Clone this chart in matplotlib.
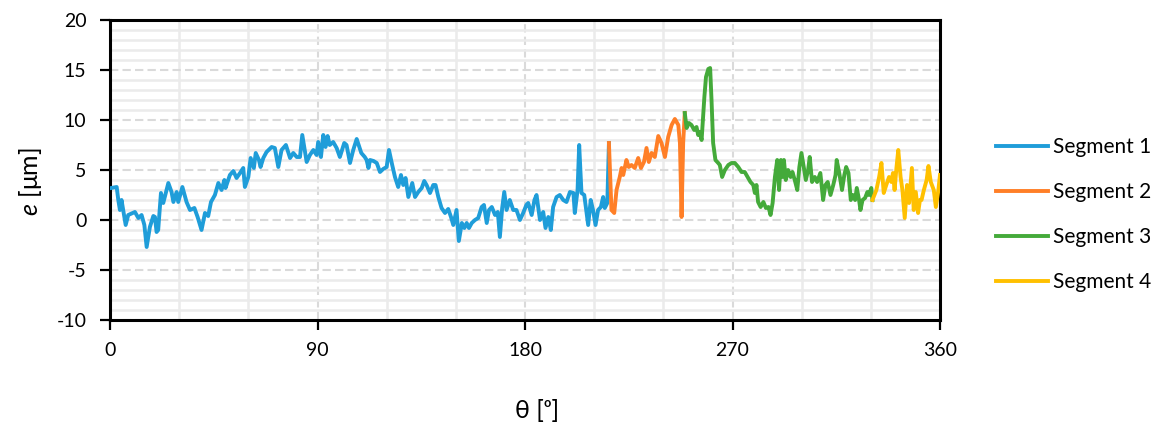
import matplotlib
matplotlib.use("Agg")
import matplotlib.pyplot as plt
from matplotlib.ticker import MultipleLocator

plt.rcParams['font.family'] = ['Lato', 'DejaVu Sans']
plt.rcParams['mathtext.fontset'] = 'custom'
plt.rcParams['mathtext.rm'] = 'Lato'
plt.rcParams['mathtext.it'] = 'Lato:italic'
plt.rcParams['axes.unicode_minus'] = False

# segment data (theta in degrees, e in um)
seg1_theta = [0.5, 2.9, 3.6, 4.3, 5.0, 6.8, 7.9, 10.8, 12.3, 13.7, 14.9, 15.9, 17.3, 18.8, 19.5, 20.2, 20.9,
              22.1, 23.1, 25.3, 26.7, 27.5, 28.9, 29.6, 31.4, 33.2, 34.7, 36.6, 38.0, 39.7, 41.2, 42.6, 43.8,
              45.5, 47.0, 48.4, 49.6, 50.1, 52.0, 53.5, 54.9, 56.4, 57.8, 58.5, 60.0, 61.0, 62.4, 63.2, 64.6,
              65.3, 66.5, 67.9, 70.1, 71.5, 73.0, 74.4, 76.3, 78.1, 79.5, 81.0, 82.4, 83.4, 85.3, 86.7, 88.2,
              89.6, 90.3, 91.5, 92.5, 93.5, 94.4, 95.3, 96.8, 98.3, 99.7, 101.6, 102.6, 104.1, 105.5, 107.0,
              109.0, 110.5, 111.3, 112.1, 112.8, 114.3, 115.7, 117.1, 118.5, 120.0, 121.0, 122.4, 123.6, 125.0,
              126.2, 127.2, 128.2, 129.4, 131.1, 132.3, 133.7, 135.2, 136.3, 137.3, 138.8, 140.2, 141.2, 142.4,
              143.8, 145.3, 146.7, 147.9, 148.9, 150.3, 151.3, 152.6, 153.7, 154.7, 155.7, 156.9, 158.3, 159.7,
              161.2, 162.2, 163.4, 164.4, 165.6, 167.0, 168.2, 169.1, 170.1, 171.0, 172.0, 173.4, 174.9, 176.3,
              177.8, 179.2, 180.6, 181.4, 182.9, 184.1, 185.0, 186.5, 187.9, 188.9, 190.1, 191.2, 192.2, 193.7,
              195.1, 196.6, 198.0, 199.5, 201.0, 201.6, 202.8, 203.5, 204.5, 205.7, 207.4, 208.5, 209.5, 210.6,
              211.7, 212.9, 213.9, 214.6, 215.7, 216.4]
seg1_e = [3.2, 3.3, 2.0, 1.0, 2.0, -0.5, 0.5, 0.8, 0.2, 0.5, -0.5, -2.7, -0.7, 0.4, 0.3, -1.2, -1.0,
          2.7, 1.7, 3.7, 2.8, 1.8, 2.8, 1.8, 3.3, 1.8, 1.0, 1.2, 0.3, -1.0, 0.7, 0.4, 1.8,
          2.5, 3.7, 3.0, 4.0, 3.2, 4.5, 4.9, 4.2, 4.7, 5.2, 3.3, 4.3, 6.2, 5.2, 6.7, 6.0,
          5.3, 6.2, 6.8, 7.3, 7.2, 5.3, 7.0, 7.5, 6.2, 6.7, 6.3, 6.3, 8.5, 5.8, 6.5, 7.0,
          6.5, 7.8, 6.3, 8.5, 7.3, 8.4, 7.5, 7.8, 7.2, 6.3, 7.7, 7.5, 5.7, 7.0, 8.1,
          6.7, 6.3, 6.0, 5.2, 6.0, 5.9, 5.7, 4.8, 5.1, 5.3, 7.0, 5.5, 4.3, 3.3,
          4.5, 3.5, 4.2, 2.3, 3.7, 2.3, 2.8, 3.2, 3.9, 3.5, 2.7, 3.5, 3.5, 2.3,
          1.2, 0.7, 1.1, 0.3, -0.5, 1.0, -2.1, -0.3, -0.8, -0.3, -0.8, -0.3, 0.0, 0.2,
          1.3, 1.5, -0.3, 1.0, 1.3, 0.5, 0.8, -1.7, 1.2, 2.8, 1.0, 2.0, 1.0, 1.0,
          0.0, 0.7, 1.5, 1.7, 0.5, 2.0, 2.5, 0.0, 0.8, -0.8, 0.3, -1.0, 1.3, 2.3,
          2.5, 2.0, 1.8, 2.8, 2.7, 0.7, 3.0, 7.5, 2.7, 2.5, -0.5, 2.0, 1.0, -0.5,
          1.0, 1.3, 2.3, 1.2, 1.7, 7.7]

seg2_theta = [216.4, 217.5, 218.7, 219.7, 221.1, 221.9, 222.6, 224.0, 225.0, 226.2, 227.6, 229.1, 230.3,
              231.6, 232.7, 233.7, 234.9, 236.3, 237.8, 239.2, 240.7, 242.1, 243.6, 245.0, 246.5, 247.2,
              247.9, 248.6, 249.3]
seg2_e = [7.7, 1.0, 0.7, 3.0, 4.3, 5.2, 4.5, 6.0, 5.3, 5.5, 5.2, 6.2, 5.2,
          5.8, 7.2, 5.8, 6.7, 6.3, 8.4, 7.7, 6.3, 8.3, 9.5, 10.1, 9.5, 7.7,
          0.3, 7.7, 10.7]

seg3_theta = [249.3, 250.1, 251.1, 252.2, 253.4, 254.4, 255.1, 255.8, 256.6, 257.8, 258.5, 259.5, 260.3,
              260.9, 261.6, 262.6, 263.8, 264.5, 265.5, 266.7, 268.2, 269.6, 271.0, 272.5, 273.9, 275.3,
              276.8, 277.8, 279.0, 279.7, 280.4, 281.1, 282.2, 283.4, 284.5, 285.6, 286.5, 287.4, 288.4,
              289.4, 290.2, 291.0, 291.7, 292.3, 293.1, 294.1, 295.2, 296.0, 297.0, 298.1, 299.0, 299.9,
              300.9, 301.8, 302.8, 303.5, 304.5, 305.7, 306.7, 308.1, 309.3, 310.3, 311.3, 312.5, 313.7,
              314.7, 315.2, 316.3, 317.5, 318.5, 319.3, 320.3, 321.3, 322.2, 323.2, 323.9, 324.9, 325.5,
              326.4, 327.5, 328.5, 329.2, 330.2, 330.7]
seg3_e = [10.7, 9.2, 9.7, 9.5, 9.0, 9.3, 8.5, 8.8, 8.0, 12.3, 14.3, 15.1, 15.2,
          12.0, 7.7, 6.0, 5.7, 5.5, 4.3, 5.0, 5.5, 5.7, 5.7, 5.3, 4.8, 4.8,
          4.2, 3.8, 3.5, 2.7, 3.5, 1.8, 1.3, 1.8, 1.2, 1.3, 0.5, 1.7, 4.3,
          6.0, 3.0, 6.0, 4.3, 6.0, 4.0, 5.0, 4.3, 4.8, 4.0, 3.0, 5.3, 6.7,
          5.3, 4.0, 5.0, 6.3, 3.8, 4.3, 3.8, 4.7, 2.0, 3.5, 3.8, 2.5, 3.5,
          4.5, 6.0, 4.7, 3.0, 4.5, 5.3, 4.7, 2.0, 2.5, 2.0, 3.2, 2.0, 1.0,
          2.0, 2.2, 2.8, 2.5, 3.2, 2.0]

seg4_theta = [330.7, 332.4, 333.6, 334.6, 335.6, 336.7, 337.9, 338.9, 339.6, 340.3, 341.1, 341.9, 342.9,
              343.7, 344.7, 345.7, 346.6, 347.8, 348.6, 349.5, 350.5, 351.3, 352.0, 353.0, 354.2, 355.0,
              356.0, 357.3, 358.2, 359.3, 360.0]
seg4_e = [2.0, 3.0, 4.3, 5.7, 2.7, 3.5, 4.3, 3.8, 4.7, 3.0, 5.2, 7.0, 4.3,
          3.0, 0.2, 3.5, 1.7, 5.2, 1.0, 2.8, 0.7, 2.0, 2.0, 3.0, 4.0, 5.4,
          3.8, 3.0, 1.3, 3.0, 4.5]

labels = ['Segment 1', 'Segment 2', 'Segment 3', 'Segment 4']
colors = ['#1f9dd9', '#ff7f27', '#44aa3a', '#ffc000']

fig = plt.figure(figsize=(11.56, 4.26), dpi=100)
ax = fig.add_axes([110/1156, 106/426, 830/1156, 300/426])

segs = [(seg1_theta, seg1_e), (seg2_theta, seg2_e), (seg3_theta, seg3_e), (seg4_theta, seg4_e)]
for (th, e), lab, c in zip(segs, labels, colors):
    ax.plot(th, e, color=c, lw=2.8, label=lab, solid_joinstyle='round', zorder=3)

ax.set_xlim(0, 360)
ax.set_ylim(-10, 20)
ax.xaxis.set_major_locator(MultipleLocator(90))
ax.xaxis.set_minor_locator(MultipleLocator(30))
ax.yaxis.set_major_locator(MultipleLocator(5))
ax.yaxis.set_minor_locator(MultipleLocator(1))

# gridlines: light solid minor, dashed major
ax.set_axisbelow(True)
ax.grid(which='minor', color='#ebebeb', lw=1.8, ls='-')
ax.grid(which='major', color='#dadada', lw=1.5, ls=(0, (4, 2)))

for s in ax.spines.values():
    s.set_color('black')
    s.set_linewidth(2.2)

ax.tick_params(which='major', direction='out', length=7, width=1.6, labelsize=14, colors='black')
ax.tick_params(axis='y', pad=10)
ax.tick_params(axis='x', pad=9)
ax.tick_params(which='minor', length=0)

fig.text(30/1156, 1 - 182/426, r'$e$ [μm]', rotation=90, ha='center', va='center', fontsize=18)
fig.text(537/1156, 1 - 410/426, 'θ [ᵒ]', ha='center', va='center', fontsize=18)

fig.legend(loc='center left', bbox_to_anchor=(996/1156, 211.5/426), frameon=False, fontsize=15,
           handlelength=2.5, handletextpad=0.25, labelspacing=1.2, borderpad=0, borderaxespad=0)

fig.savefig('out.png', dpi=100)
